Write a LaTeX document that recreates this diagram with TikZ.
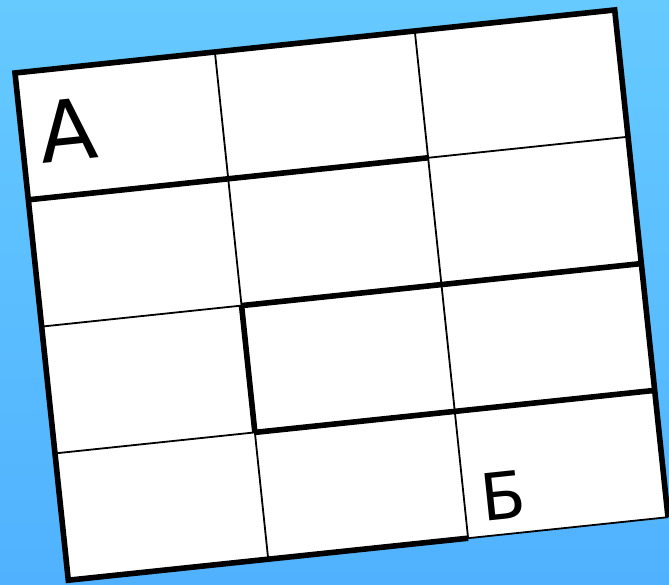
\documentclass[tikz,border=0pt]{standalone}
\usepackage{fontspec}
\setmainfont{DejaVu Sans}
\begin{document}
\begin{tikzpicture}[
  x=1pt, y=1pt,
  bg/.style={top color=sky!100, bottom color=skydeep},
  board/.style={fill=white},
  thickline/.style={draw=black, line width=5.6pt, line join=miter},
  thinline/.style={draw=black, line width=1.8pt},
  bigletter/.style={font=\fontsize{84}{90}\selectfont, inner sep=0pt, rotate=6},
  smallletter/.style={font=\fontsize{65}{72}\selectfont, inner sep=0pt, rotate=6}]
\definecolor{sky}{RGB}{102,202,255}
\definecolor{skydeep}{RGB}{80,178,254}
\useasboundingbox (0,0) rectangle (669,584);
\clip (0,0) rectangle (669,584);
\shade[bg] (0,0) rectangle (669,584);
% the board, turned a little
\begin{scope}[shift={(15,511)}, rotate=6]
  \coordinate (tl) at (0,0);
  \coordinate (br) at (603,-510);
  \fill[board] (tl) rectangle (br);
  % thin cell walls
  \draw[thinline] (201,0) -- (201,-255);
  \draw[thinline] (201,-382.5) -- (201,-510);
  \draw[thinline] (402,0) -- (402,-510);
  \draw[thinline] (402,-127.5) -- (603,-127.5);
  \draw[thinline] (0,-255) -- (201,-255);
  \draw[thinline] (0,-382.5) -- (201,-382.5);
  \draw[thinline] (402,-510) -- (603,-510);
  % thick walls
  \draw[thickline] (402,-510) -- (0,-510) -- (tl) -- (603,0) -- (br);
  \draw[thickline] (0,-127.5) -- (402,-127.5);
  \draw[thickline] (201,-255) -- (603,-255);
  \draw[thickline] (201,-382.5) -- (603,-382.5);
  \draw[thickline] (201,-255) -- (201,-382.5);
  % labels
  \node[bigletter] (start) at (46.5,-62) {А};
  \node[smallletter] (finish) at (441,-471.7) {Б};
\end{scope}
\end{tikzpicture}
\end{document}
